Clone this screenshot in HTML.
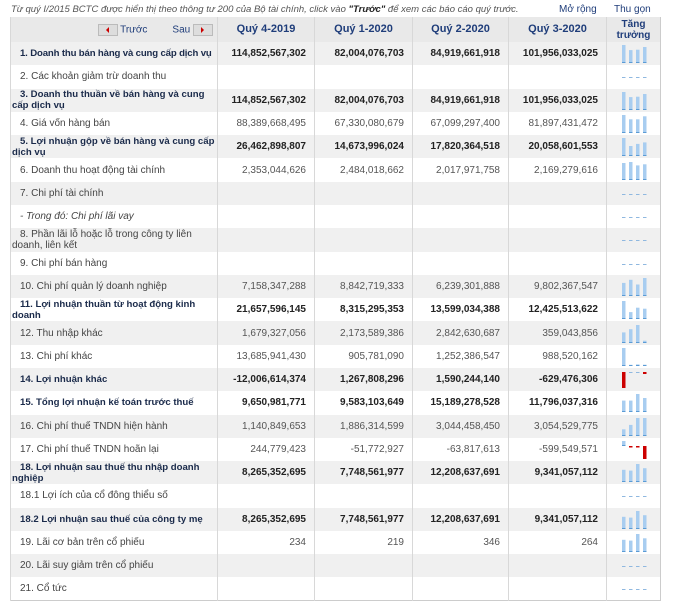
<!DOCTYPE html>
<html><head><meta charset="utf-8">
<style>
*{margin:0;padding:0;box-sizing:border-box}
body{width:680px;height:606px;background:#fff;font-family:"Liberation Sans",Arial,sans-serif;position:relative;overflow:hidden}
.note{position:absolute;left:11px;top:4px;font-size:9.5px;font-style:italic;color:#555;white-space:nowrap}
.note b{color:#222}
.mr{position:absolute;left:559px;top:4px;font-size:10px;color:#1f3d7a}
.tg{position:absolute;left:614px;top:4px;font-size:10px;color:#1f3d7a}
table{position:absolute;left:10px;top:17px;border-collapse:collapse;table-layout:fixed;width:650px;border-right:1px solid #ccc;border-bottom:1px solid #ccc}
td,th{font-size:10px;line-height:11px;vertical-align:middle;border-left:1px solid #d8d8d8;overflow:hidden}
th{height:25px;background:#e9e9e9;color:#1f3d7a;font-size:11px;font-weight:bold;text-align:center}
tr.r td{height:23.29px}
tr.g td{background:#f0f0f0}
td.l{padding-left:1px;text-indent:8px;color:#444}
td.n{text-align:right;padding-right:8px;color:#555}
tr.b td.l{color:#1a2a4a;font-weight:bold;font-size:9.6px}
tr.b td.n{color:#222;font-weight:bold}
td.c{padding:0}
svg{display:block}
.btn{display:inline-block;width:20px;height:12px;background:#ddd;border:1px solid #bbb;vertical-align:middle;position:relative}
.btn i{position:absolute;left:7px;top:2px;width:0;height:0;border:3px solid transparent}
</style></head><body>
<div class="note">Từ quý I/2015 BCTC được hiển thị theo thông tư 200 của Bộ tài chính, click vào <b>"Trước"</b> để xem các báo cáo quý trước.</div>
<div class="mr">Mở rộng</div><div class="tg">Thu gọn</div>
<table>
<colgroup><col style="width:207px"><col style="width:97px"><col style="width:98px"><col style="width:96px"><col style="width:98px"><col style="width:54px"></colgroup>
<tr><th style="font-size:10px;font-weight:normal;text-align:right;padding-right:4px;color:#1f3d7a"><span class="btn"><i style="border-right-color:#c00;left:4px"></i></span> Trước &nbsp; &nbsp; &nbsp; &nbsp; Sau <span class="btn"><i style="border-left-color:#c00"></i></span></th><th>Quý 4-2019</th><th>Quý 1-2020</th><th>Quý 2-2020</th><th>Quý 3-2020</th><th style="font-size:10px;line-height:11px">Tăng<br>trưởng</th></tr>

<tr class="r g b"><td class="l" style="white-space:nowrap;letter-spacing:-0.15px">1. Doanh thu bán hàng và cung cấp dịch vụ</td><td class="n">114,852,567,302</td><td class="n">82,004,076,703</td><td class="n">84,919,661,918</td><td class="n">101,956,033,025</td><td class="c"><svg width="54" height="23"><g fill="#a8cdf0"><rect x="15" y="3" width="3.5" height="18"/><rect x="22" y="8.1" width="3.5" height="12.9"/><rect x="29" y="7.7" width="3.5" height="13.3"/><rect x="36" y="5" width="3.5" height="16"/></g><g fill="#5b9bd5"><rect x="15" y="20" width="3.5" height="1"/><rect x="22" y="20" width="3.5" height="1"/><rect x="29" y="20" width="3.5" height="1"/><rect x="36" y="20" width="3.5" height="1"/></g></svg></td></tr>
<tr class="r"><td class="l">2. Các khoản giảm trừ doanh thu</td><td class="n"></td><td class="n"></td><td class="n"></td><td class="n"></td><td class="c"><svg width="54" height="23"><g fill="#8fb8e0"><rect x="15" y="12" width="3.5" height="1"/><rect x="22" y="12" width="3.5" height="1"/><rect x="29" y="12" width="3.5" height="1"/><rect x="36" y="12" width="3.5" height="1"/></g></svg></td></tr>
<tr class="r g b"><td class="l">3. Doanh thu thuần về bán hàng và cung cấp dịch vụ</td><td class="n">114,852,567,302</td><td class="n">82,004,076,703</td><td class="n">84,919,661,918</td><td class="n">101,956,033,025</td><td class="c"><svg width="54" height="23"><g fill="#a8cdf0"><rect x="15" y="3" width="3.5" height="18"/><rect x="22" y="8.1" width="3.5" height="12.9"/><rect x="29" y="7.7" width="3.5" height="13.3"/><rect x="36" y="5" width="3.5" height="16"/></g><g fill="#5b9bd5"><rect x="15" y="20" width="3.5" height="1"/><rect x="22" y="20" width="3.5" height="1"/><rect x="29" y="20" width="3.5" height="1"/><rect x="36" y="20" width="3.5" height="1"/></g></svg></td></tr>
<tr class="r"><td class="l">4. Giá vốn hàng bán</td><td class="n">88,389,668,495</td><td class="n">67,330,080,679</td><td class="n">67,099,297,400</td><td class="n">81,897,431,472</td><td class="c"><svg width="54" height="23"><g fill="#a8cdf0"><rect x="15" y="3" width="3.5" height="18"/><rect x="22" y="7.3" width="3.5" height="13.7"/><rect x="29" y="7.3" width="3.5" height="13.7"/><rect x="36" y="4.3" width="3.5" height="16.7"/></g><g fill="#5b9bd5"><rect x="15" y="20" width="3.5" height="1"/><rect x="22" y="20" width="3.5" height="1"/><rect x="29" y="20" width="3.5" height="1"/><rect x="36" y="20" width="3.5" height="1"/></g></svg></td></tr>
<tr class="r g b"><td class="l">5. Lợi nhuận gộp về bán hàng và cung cấp dịch vụ</td><td class="n">26,462,898,807</td><td class="n">14,673,996,024</td><td class="n">17,820,364,518</td><td class="n">20,058,601,553</td><td class="c"><svg width="54" height="23"><g fill="#a8cdf0"><rect x="15" y="3" width="3.5" height="18"/><rect x="22" y="11" width="3.5" height="10"/><rect x="29" y="8.9" width="3.5" height="12.1"/><rect x="36" y="7.4" width="3.5" height="13.6"/></g><g fill="#5b9bd5"><rect x="15" y="20" width="3.5" height="1"/><rect x="22" y="20" width="3.5" height="1"/><rect x="29" y="20" width="3.5" height="1"/><rect x="36" y="20" width="3.5" height="1"/></g></svg></td></tr>
<tr class="r"><td class="l">6. Doanh thu hoạt động tài chính</td><td class="n">2,353,044,626</td><td class="n">2,484,018,662</td><td class="n">2,017,971,758</td><td class="n">2,169,279,616</td><td class="c"><svg width="54" height="23"><g fill="#a8cdf0"><rect x="15" y="4" width="3.5" height="17"/><rect x="22" y="3" width="3.5" height="18"/><rect x="29" y="6.4" width="3.5" height="14.6"/><rect x="36" y="5.3" width="3.5" height="15.7"/></g><g fill="#5b9bd5"><rect x="15" y="20" width="3.5" height="1"/><rect x="22" y="20" width="3.5" height="1"/><rect x="29" y="20" width="3.5" height="1"/><rect x="36" y="20" width="3.5" height="1"/></g></svg></td></tr>
<tr class="r g"><td class="l">7. Chi phí tài chính</td><td class="n"></td><td class="n"></td><td class="n"></td><td class="n"></td><td class="c"><svg width="54" height="23"><g fill="#8fb8e0"><rect x="15" y="12" width="3.5" height="1"/><rect x="22" y="12" width="3.5" height="1"/><rect x="29" y="12" width="3.5" height="1"/><rect x="36" y="12" width="3.5" height="1"/></g></svg></td></tr>
<tr class="r"><td class="l" style="font-style:italic">- Trong đó: Chi phí lãi vay</td><td class="n"></td><td class="n"></td><td class="n"></td><td class="n"></td><td class="c"><svg width="54" height="23"><g fill="#8fb8e0"><rect x="15" y="12" width="3.5" height="1"/><rect x="22" y="12" width="3.5" height="1"/><rect x="29" y="12" width="3.5" height="1"/><rect x="36" y="12" width="3.5" height="1"/></g></svg></td></tr>
<tr class="r g"><td class="l">8. Phần lãi lỗ hoặc lỗ trong công ty liên doanh, liên kết</td><td class="n"></td><td class="n"></td><td class="n"></td><td class="n"></td><td class="c"><svg width="54" height="23"><g fill="#8fb8e0"><rect x="15" y="12" width="3.5" height="1"/><rect x="22" y="12" width="3.5" height="1"/><rect x="29" y="12" width="3.5" height="1"/><rect x="36" y="12" width="3.5" height="1"/></g></svg></td></tr>
<tr class="r"><td class="l">9. Chi phí bán hàng</td><td class="n"></td><td class="n"></td><td class="n"></td><td class="n"></td><td class="c"><svg width="54" height="23"><g fill="#8fb8e0"><rect x="15" y="12" width="3.5" height="1"/><rect x="22" y="12" width="3.5" height="1"/><rect x="29" y="12" width="3.5" height="1"/><rect x="36" y="12" width="3.5" height="1"/></g></svg></td></tr>
<tr class="r g"><td class="l">10. Chi phí quản lý doanh nghiệp</td><td class="n">7,158,347,288</td><td class="n">8,842,719,333</td><td class="n">6,239,301,888</td><td class="n">9,802,367,547</td><td class="c"><svg width="54" height="23"><g fill="#a8cdf0"><rect x="15" y="7.9" width="3.5" height="13.1"/><rect x="22" y="4.8" width="3.5" height="16.2"/><rect x="29" y="9.5" width="3.5" height="11.5"/><rect x="36" y="3" width="3.5" height="18"/></g><g fill="#5b9bd5"><rect x="15" y="20" width="3.5" height="1"/><rect x="22" y="20" width="3.5" height="1"/><rect x="29" y="20" width="3.5" height="1"/><rect x="36" y="20" width="3.5" height="1"/></g></svg></td></tr>
<tr class="r b"><td class="l">11. Lợi nhuận thuần từ hoạt động kinh doanh</td><td class="n">21,657,596,145</td><td class="n">8,315,295,353</td><td class="n">13,599,034,388</td><td class="n">12,425,513,622</td><td class="c"><svg width="54" height="23"><g fill="#a8cdf0"><rect x="15" y="3" width="3.5" height="18"/><rect x="22" y="14.1" width="3.5" height="6.9"/><rect x="29" y="9.7" width="3.5" height="11.3"/><rect x="36" y="10.7" width="3.5" height="10.3"/></g><g fill="#5b9bd5"><rect x="15" y="20" width="3.5" height="1"/><rect x="22" y="20" width="3.5" height="1"/><rect x="29" y="20" width="3.5" height="1"/><rect x="36" y="20" width="3.5" height="1"/></g></svg></td></tr>
<tr class="r g"><td class="l">12. Thu nhập khác</td><td class="n">1,679,327,056</td><td class="n">2,173,589,386</td><td class="n">2,842,630,687</td><td class="n">359,043,856</td><td class="c"><svg width="54" height="23"><g fill="#a8cdf0"><rect x="15" y="10.4" width="3.5" height="10.6"/><rect x="22" y="7.2" width="3.5" height="13.8"/><rect x="29" y="3" width="3.5" height="18"/><rect x="36" y="18.7" width="3.5" height="2.3"/></g><g fill="#5b9bd5"><rect x="15" y="20" width="3.5" height="1"/><rect x="22" y="20" width="3.5" height="1"/><rect x="29" y="20" width="3.5" height="1"/><rect x="36" y="20" width="3.5" height="1"/></g></svg></td></tr>
<tr class="r"><td class="l">13. Chi phí khác</td><td class="n">13,685,941,430</td><td class="n">905,781,090</td><td class="n">1,252,386,547</td><td class="n">988,520,162</td><td class="c"><svg width="54" height="23"><g fill="#a8cdf0"><rect x="15" y="3" width="3.5" height="18"/><rect x="22" y="19.8" width="3.5" height="1.2"/><rect x="29" y="19.4" width="3.5" height="1.6"/><rect x="36" y="19.7" width="3.5" height="1.3"/></g><g fill="#5b9bd5"><rect x="15" y="20" width="3.5" height="1"/><rect x="22" y="20" width="3.5" height="1"/><rect x="29" y="20" width="3.5" height="1"/><rect x="36" y="20" width="3.5" height="1"/></g></svg></td></tr>
<tr class="r g b"><td class="l">14. Lợi nhuận khác</td><td class="n">-12,006,614,374</td><td class="n">1,267,808,296</td><td class="n">1,590,244,140</td><td class="n">-629,476,306</td><td class="c"><svg width="54" height="23"><rect x="15" y="4" width="3.5" height="16" fill="#cc0000"/><rect x="22" y="4" width="3.5" height="1" fill="#8fb8e0"/><rect x="29" y="4" width="3.5" height="1" fill="#8fb8e0"/><rect x="36" y="4" width="3.5" height="2" fill="#cc0000"/></svg></td></tr>
<tr class="r b"><td class="l">15. Tổng lợi nhuận kế toán trước thuế</td><td class="n">9,650,981,771</td><td class="n">9,583,103,649</td><td class="n">15,189,278,528</td><td class="n">11,796,037,316</td><td class="c"><svg width="54" height="23"><g fill="#a8cdf0"><rect x="15" y="9.6" width="3.5" height="11.4"/><rect x="22" y="9.6" width="3.5" height="11.4"/><rect x="29" y="3" width="3.5" height="18"/><rect x="36" y="7" width="3.5" height="14"/></g><g fill="#5b9bd5"><rect x="15" y="20" width="3.5" height="1"/><rect x="22" y="20" width="3.5" height="1"/><rect x="29" y="20" width="3.5" height="1"/><rect x="36" y="20" width="3.5" height="1"/></g></svg></td></tr>
<tr class="r g"><td class="l">16. Chi phí thuế TNDN hiện hành</td><td class="n">1,140,849,653</td><td class="n">1,886,314,599</td><td class="n">3,044,458,450</td><td class="n">3,054,529,775</td><td class="c"><svg width="54" height="23"><g fill="#a8cdf0"><rect x="15" y="14.3" width="3.5" height="6.7"/><rect x="22" y="9.9" width="3.5" height="11.1"/><rect x="29" y="3" width="3.5" height="18"/><rect x="36" y="3" width="3.5" height="18"/></g><g fill="#5b9bd5"><rect x="15" y="20" width="3.5" height="1"/><rect x="22" y="20" width="3.5" height="1"/><rect x="29" y="20" width="3.5" height="1"/><rect x="36" y="20" width="3.5" height="1"/></g></svg></td></tr>
<tr class="r"><td class="l">17. Chi phí thuế TNDN hoãn lại</td><td class="n">244,779,423</td><td class="n">-51,772,927</td><td class="n">-63,817,613</td><td class="n">-599,549,571</td><td class="c"><svg width="54" height="23"><rect x="15" y="3" width="3.5" height="5" fill="#a8cdf0"/><rect x="15" y="7" width="3.5" height="1" fill="#5b9bd5"/><rect x="22" y="8" width="3.5" height="1.5" fill="#cc0000"/><rect x="29" y="8" width="3.5" height="1.5" fill="#cc0000"/><rect x="36" y="8" width="3.5" height="13" fill="#cc0000"/></svg></td></tr>
<tr class="r g b"><td class="l">18. Lợi nhuận sau thuế thu nhập doanh nghiệp</td><td class="n">8,265,352,695</td><td class="n">7,748,561,977</td><td class="n">12,208,637,691</td><td class="n">9,341,057,112</td><td class="c"><svg width="54" height="23"><g fill="#a8cdf0"><rect x="15" y="8.8" width="3.5" height="12.2"/><rect x="22" y="9.6" width="3.5" height="11.4"/><rect x="29" y="3" width="3.5" height="18"/><rect x="36" y="7.2" width="3.5" height="13.8"/></g><g fill="#5b9bd5"><rect x="15" y="20" width="3.5" height="1"/><rect x="22" y="20" width="3.5" height="1"/><rect x="29" y="20" width="3.5" height="1"/><rect x="36" y="20" width="3.5" height="1"/></g></svg></td></tr>
<tr class="r"><td class="l">18.1 Lợi ích của cổ đông thiểu số</td><td class="n"></td><td class="n"></td><td class="n"></td><td class="n"></td><td class="c"><svg width="54" height="23"><g fill="#8fb8e0"><rect x="15" y="12" width="3.5" height="1"/><rect x="22" y="12" width="3.5" height="1"/><rect x="29" y="12" width="3.5" height="1"/><rect x="36" y="12" width="3.5" height="1"/></g></svg></td></tr>
<tr class="r g b"><td class="l">18.2 Lợi nhuận sau thuế của công ty mẹ</td><td class="n">8,265,352,695</td><td class="n">7,748,561,977</td><td class="n">12,208,637,691</td><td class="n">9,341,057,112</td><td class="c"><svg width="54" height="23"><g fill="#a8cdf0"><rect x="15" y="8.8" width="3.5" height="12.2"/><rect x="22" y="9.6" width="3.5" height="11.4"/><rect x="29" y="3" width="3.5" height="18"/><rect x="36" y="7.2" width="3.5" height="13.8"/></g><g fill="#5b9bd5"><rect x="15" y="20" width="3.5" height="1"/><rect x="22" y="20" width="3.5" height="1"/><rect x="29" y="20" width="3.5" height="1"/><rect x="36" y="20" width="3.5" height="1"/></g></svg></td></tr>
<tr class="r"><td class="l">19. Lãi cơ bản trên cổ phiếu</td><td class="n">234</td><td class="n">219</td><td class="n">346</td><td class="n">264</td><td class="c"><svg width="54" height="23"><g fill="#a8cdf0"><rect x="15" y="8.8" width="3.5" height="12.2"/><rect x="22" y="9.6" width="3.5" height="11.4"/><rect x="29" y="3" width="3.5" height="18"/><rect x="36" y="7.3" width="3.5" height="13.7"/></g><g fill="#5b9bd5"><rect x="15" y="20" width="3.5" height="1"/><rect x="22" y="20" width="3.5" height="1"/><rect x="29" y="20" width="3.5" height="1"/><rect x="36" y="20" width="3.5" height="1"/></g></svg></td></tr>
<tr class="r g"><td class="l">20. Lãi suy giảm trên cổ phiếu</td><td class="n"></td><td class="n"></td><td class="n"></td><td class="n"></td><td class="c"><svg width="54" height="23"><g fill="#8fb8e0"><rect x="15" y="12" width="3.5" height="1"/><rect x="22" y="12" width="3.5" height="1"/><rect x="29" y="12" width="3.5" height="1"/><rect x="36" y="12" width="3.5" height="1"/></g></svg></td></tr>
<tr class="r"><td class="l">21. Cổ tức</td><td class="n"></td><td class="n"></td><td class="n"></td><td class="n"></td><td class="c"><svg width="54" height="23"><g fill="#8fb8e0"><rect x="15" y="12" width="3.5" height="1"/><rect x="22" y="12" width="3.5" height="1"/><rect x="29" y="12" width="3.5" height="1"/><rect x="36" y="12" width="3.5" height="1"/></g></svg></td></tr>
</table>
</body></html>
